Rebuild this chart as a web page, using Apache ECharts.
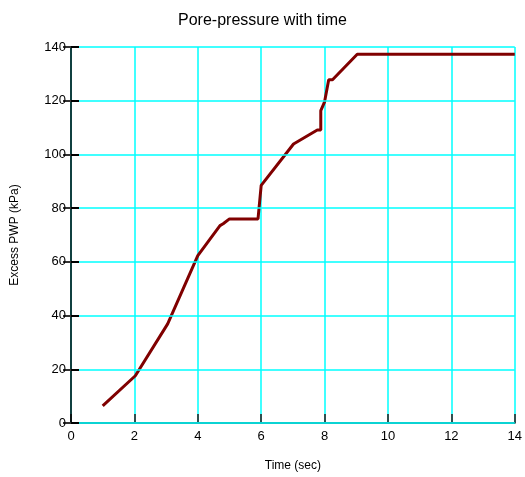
<!DOCTYPE html>
<html>
<head>
<meta charset="utf-8">
<script src="https://cdn.jsdelivr.net/npm/echarts@6/dist/echarts.min.js"></script>
<style>
  html, body { margin: 0; padding: 0; background: #fff; }
  #chart { width: 525px; height: 477px; }
</style>
</head>
<body>
<div id="chart"></div>
<script>
// time (sec) and excess pore-water pressure (kPa)
var timeSec = [1, 2.03, 3.05, 4, 4.7, 4.8, 5, 5.9, 6, 7.02, 7.77, 7.88, 7.88, 8.0, 8.13, 8.25, 9.03, 14]
var pwpKPa = [6.4, 17.6, 36.9, 62.3, 73.5, 74.2, 76, 76, 88.5, 103.9, 109.1, 109.1, 116.3, 119.6, 127.8, 127.8, 137.3, 137.3]

var points = timeSec.map(function (t, i) { return [t, pwpKPa[i]] })

var font = 'Liberation Sans, Arial, sans-serif'
var gridColor = '#00ffff'

var chart = echarts.init(document.getElementById('chart'))
chart.setOption({
  animation: false,
  title: {
    text: 'Pore-pressure with time',
    left: 'center',
    top: 8,
    textStyle: { fontFamily: font, fontSize: 16, fontWeight: 'normal', color: '#000' }
  },
  // 7 intervals each way, 64 px wide and 54 px tall so the grid lines land on whole pixels
  grid: { left: 71, width: 448, top: 47, height: 378 },
  xAxis: {
    type: 'value',
    min: 0,
    max: 14,
    interval: 2,
    name: 'Time (sec)',
    nameLocation: 'middle',
    nameGap: 37,
    nameTextStyle: { fontFamily: font, fontSize: 12, color: '#000' },
    axisLine: { lineStyle: { color: '#2f4f4f', width: 2 } },
    axisTick: { inside: true, length: 9, lineStyle: { color: '#2f4f4f', width: 2 } },
    axisLabel: { fontFamily: font, fontSize: 13, color: '#000', margin: 7 },
    splitLine: { show: true, lineStyle: { color: gridColor, width: 1.5 } }
  },
  yAxis: [
    {
      type: 'value',
      z: 5,
      min: 0,
      max: 140,
      interval: 20,
      name: 'Excess PWP (kPa)',
      nameLocation: 'middle',
      nameGap: 50,
      nameTextStyle: { fontFamily: font, fontSize: 12, color: '#000' },
      axisLine: { show: true, lineStyle: { color: '#000', width: 1.5 } },
      axisTick: { show: true, length: 8, lineStyle: { color: '#333', width: 2 } },
      axisLabel: { fontFamily: font, fontSize: 13, color: '#000', margin: 5 },
      splitLine: { show: true, lineStyle: { color: gridColor, width: 1.5 } }
    },
    {
      type: 'value',
      z: 5,
      position: 'left',
      min: 0,
      max: 140,
      interval: 20,
      axisLine: { show: false },
      axisTick: { show: true, inside: true, length: 8, lineStyle: { color: '#000', width: 2 } },
      axisLabel: { show: false },
      splitLine: { show: false }
    }
  ],
  series: [
    {
      type: 'line',
      data: points,
      showSymbol: false,
      lineStyle: { color: '#800000', width: 3 },
      itemStyle: { color: '#800000' }
    }
  ]
})
</script>
</body>
</html>
